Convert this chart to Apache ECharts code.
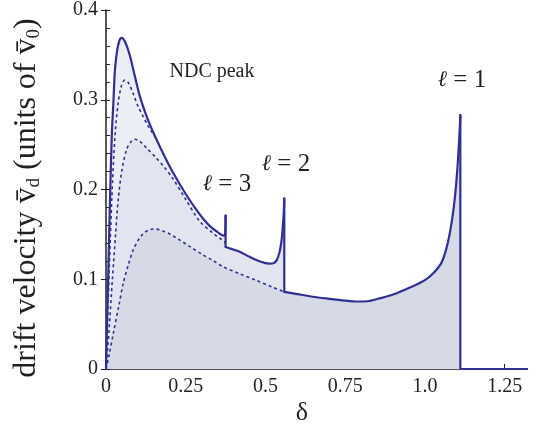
<!DOCTYPE html>
<html>
<head>
<meta charset="utf-8">
<script src="https://cdn.jsdelivr.net/npm/echarts@6/dist/echarts.min.js"></script>
<style>
  html, body { margin: 0; padding: 0; background: #fff; }
  #chart { width: 541px; height: 433px; }
</style>
</head>
<body>
<div id="chart"></div>
<script>
// tick values and labels
const xTicks = [0, 0.25, 0.5, 0.75, 1.0, 1.25];
const xTickLabels = ['0', '0.25', '0.5', '0.75', '1.0', '1.25'];
const yTicks = [0, 0.1, 0.2, 0.3, 0.4];
const yTickLabels = ['0', '0.1', '0.2', '0.3', '0.4'];

// full drift velocity, piece up to the l=3 resonance
const solidA = [
  [0, 0], [0.004, 0.06], [0.008, 0.12], [0.0125, 0.188], [0.018, 0.259],
  [0.023, 0.296], [0.028, 0.333], [0.035, 0.355], [0.042, 0.366], [0.049, 0.369],
  [0.056, 0.367], [0.065, 0.36], [0.075, 0.349], [0.09, 0.327], [0.106, 0.304],
  [0.13, 0.279], [0.158, 0.256], [0.185, 0.236], [0.21, 0.219], [0.25, 0.195],
  [0.283, 0.1775], [0.3, 0.1695], [0.325, 0.1595], [0.35, 0.1525], [0.369, 0.1485],
  [0.373, 0.149], [0.375, 0.171]
];
// between l=3 and l=2
const solidB = [
  [0.375, 0.136], [0.4, 0.133], [0.419, 0.1307], [0.45, 0.125], [0.471, 0.1214],
  [0.5, 0.118], [0.5125, 0.1175], [0.525, 0.1178], [0.535, 0.121], [0.544, 0.13],
  [0.55, 0.142], [0.554, 0.157], [0.557, 0.172], [0.559, 0.19]
];
// between l=2 and l=1
const solidC = [
  [0.559, 0.086], [0.6, 0.0835], [0.648, 0.0805], [0.7, 0.0782], [0.75, 0.0762],
  [0.783, 0.0752], [0.82, 0.0755], [0.856, 0.0785], [0.9, 0.083], [0.96, 0.092],
  [1.0, 0.099], [1.03, 0.108], [1.054, 0.12], [1.075, 0.146], [1.091, 0.182],
  [1.101, 0.22], [1.108, 0.26], [1.111, 0.283]
];
// above l=1 the drift velocity is zero
const solidTail = [[1.111, 0], [1.32, 0]];

// dashed partial curves
const upperDash = [
  [0, 0], [0.007, 0.077], [0.018, 0.188], [0.028, 0.259], [0.038, 0.296],
  [0.048, 0.315], [0.059, 0.322], [0.07, 0.319], [0.085, 0.307], [0.1, 0.293],
  [0.117, 0.281], [0.135, 0.269], [0.155, 0.258]
];
const middleDash = [
  [0, 0], [0.01, 0.045], [0.02, 0.1], [0.03, 0.15], [0.038, 0.188],
  [0.05, 0.222], [0.065, 0.245], [0.08, 0.254], [0.09, 0.256], [0.105, 0.254],
  [0.125, 0.247], [0.158, 0.235], [0.185, 0.224], [0.21, 0.212], [0.25, 0.189],
  [0.294, 0.1645], [0.335, 0.1515], [0.355, 0.146], [0.372, 0.142], [0.375, 0.136]
];
const lowerDash = [
  [0, 0], [0.01, 0.016], [0.023, 0.04], [0.04, 0.07], [0.054, 0.0955],
  [0.07, 0.116], [0.085, 0.1326], [0.1, 0.143], [0.117, 0.151], [0.132, 0.1545],
  [0.148, 0.156], [0.165, 0.1555], [0.18, 0.1535], [0.2, 0.1505], [0.231, 0.1437],
  [0.265, 0.136], [0.3, 0.128], [0.335, 0.121], [0.367, 0.114], [0.42, 0.106],
  [0.47, 0.099], [0.52, 0.0915], [0.559, 0.086]
];

const blue = '#2e3192';
const ink = '#231f20';
const serif = "'Liberation Serif', 'Times New Roman', serif";
const last = a => a[a.length - 1];

const chart = echarts.init(document.getElementById('chart'));

const fill = (data, color) => ({
  type: 'line', data: data, showSymbol: false, silent: true, z: 1,
  smooth: 0.3,
  lineStyle: { width: 0 }, areaStyle: { color: color, opacity: 1 }
});
const dashed = (data) => ({
  type: 'line', data: data, showSymbol: false, silent: true, z: 3,
  smooth: 0.3,
  lineStyle: { color: blue, width: 1.6, type: [3, 3] }
});
const solid = (data, smooth) => ({
  type: 'line', data: data, showSymbol: false, silent: true, z: 4,
  smooth: smooth ? 0.3 : false,
  lineStyle: { color: blue, width: 2.2, cap: 'round', join: 'round' }
});

const lightFill = '#eceef5';
const midFill = '#e2e5ef';
const darkFill = '#d6dae6';

const label = (x, y, n) => ({
  type: 'text', x: x, y: y,
  style: {
    text: '{i|ℓ}{n| = ' + n + '}', align: 'center', verticalAlign: 'middle',
    rich: {
      i: { fontFamily: "'DejaVu Serif', serif", fontStyle: 'italic', fontSize: 22, fill: ink, color: ink },
      n: { fontFamily: serif, fontSize: 25, fill: ink, color: ink }
    }
  }
});

chart.setOption({
  animation: false,
  grid: { left: 106, right: 14, top: 10, bottom: 64 },
  xAxis: {
    type: 'value', min: 0, max: 1.32,
    axisLine: { lineStyle: { color: ink, width: 1.5 } },
    axisTick: { inside: true, length: 5, customValues: xTicks, lineStyle: { color: ink } },
    splitLine: { show: false },
    axisLabel: {
      color: ink, fontFamily: serif, fontSize: 20, margin: 8, customValues: xTicks,
      formatter: v => {
        const i = xTicks.findIndex(t => Math.abs(t - v) < 1e-6);
        return i >= 0 ? xTickLabels[i] : '';
      }
    }
  },
  yAxis: [{
    type: 'value', min: 0, max: 0.4,
    axisLine: { show: true, lineStyle: { color: ink, width: 1.5 } },
    axisTick: { show: true, length: 5, customValues: yTicks, lineStyle: { color: ink } },
    splitLine: { show: false },
    axisLabel: {
      color: ink, fontFamily: serif, fontSize: 20, margin: 8, customValues: yTicks,
      formatter: v => {
        const i = yTicks.findIndex(t => Math.abs(t - v) < 1e-6);
        return i >= 0 ? yTickLabels[i] : '';
      }
    }
  }, {
    // minor ticks on the inside
    type: 'value', min: 0, max: 0.4, interval: 0.02, position: 'left',
    axisLine: { show: false },
    axisTick: { show: true, inside: true, length: 4, lineStyle: { color: ink } },
    axisLabel: { show: false },
    splitLine: { show: false }
  }],
  series: [
    // shaded areas
    fill(solidA, lightFill), fill(solidB, lightFill), fill(solidC, lightFill),
    fill(middleDash, midFill), fill(solidB, midFill), fill(solidC, midFill),
    fill(lowerDash, darkFill), fill(solidC, darkFill),
    // dashed partial curves
    dashed(upperDash),
    dashed(middleDash),
    dashed(lowerDash),
    // full curve with its jumps
    solid(solidA, true), solid(solidB, true), solid(solidC, true),
    solid([last(solidA), solidB[0]], false),
    solid([last(solidB), solidC[0]], false),
    solid([last(solidC)].concat(solidTail), false)
  ],
  graphic: [
    { type: 'text', x: 212, y: 72, style: { text: 'NDC peak', font: '20px ' + serif, fill: ink, align: 'center', verticalAlign: 'middle' } },
    label(227, 184, 3),
    label(286, 164, 2),
    label(462, 80, 1),
    { type: 'text', x: 302, y: 413, style: { text: 'δ', font: '26px ' + serif, fill: ink, align: 'center', verticalAlign: 'middle' } },
    {
      type: 'text', x: 27, y: 198, rotation: Math.PI / 2,
      style: {
        text: '{a|drift velocity v\u0304}{s|d}{a| (units of v\u0304}{s|0}{a|)}',
        align: 'center', verticalAlign: 'middle',
        rich: {
          a: { fontFamily: serif, fontSize: 32, fill: ink, color: ink, lineHeight: 34, verticalAlign: 'middle' },
          s: { fontFamily: serif, fontSize: 19, fill: ink, color: ink, lineHeight: 34, verticalAlign: 'bottom' }
        }
      }
    }
  ]
});
</script>
</body>
</html>
